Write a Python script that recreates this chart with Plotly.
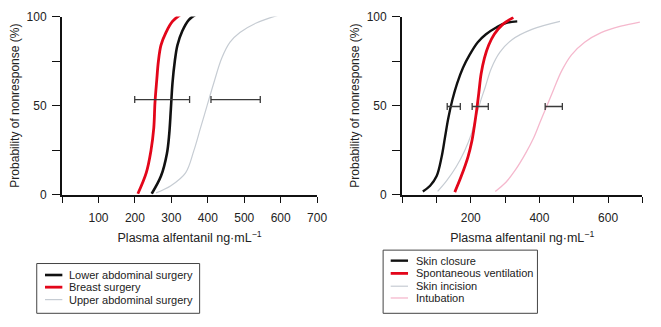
import plotly.graph_objects as go

W, H = 661, 327

# ---------------- data ----------------
left_names = ["Lower abdominal surgery", "Breast surgery", "Upper abdominal surgery"]
lower_x = [246, 271.5, 287.7, 294, 298.6, 303, 309.4, 316.6, 330, 348, 372.7]
lower_y = [0.5, 10.4, 23, 33.7, 48, 62.4, 74.9, 83.9, 91.9, 98.2, 101.8]
breast_x = [208, 231, 244, 251.7, 255, 259.8, 264.4, 271.5, 285, 303, 330]
breast_y = [0.5, 12.2, 24.7, 37.3, 51.6, 64.1, 74.9, 83.9, 91, 97.3, 101.8]
upper_x = [258, 298.6, 339, 361.7, 379.8, 397.8, 416, 438.4, 461, 488, 533, 596]
upper_y = [1, 5, 12.2, 24.7, 37.3, 49.8, 62.4, 76.7, 85.6, 91, 96.4, 100.9]
left_err_lo = [199.4, 408.7]
left_err_hi = [350, 544]
left_err_y = [53.4, 53.4]

right_names = ["Skin closure", "Spontaneous ventilation", "Skin incision", "Intubation"]
closure_x = [60.3, 81.6, 100.6, 115, 124.7, 134.2, 146.6, 160, 177.3, 196.5, 220.4, 244.3, 273, 301.7, 335.3]
closure_y = [1.8, 5, 10.4, 21.1, 31.9, 42.6, 53.4, 62.4, 71.3, 78.5, 85.6, 90.1, 93.7, 96.4, 97.3]
spont_x = [153.4, 172.4, 191.7, 203.2, 210.9, 217.5, 223.3, 230, 239.7, 252, 268.4, 292.2, 323.9]
spont_y = [1.4, 10.4, 21.1, 30.1, 39.1, 48, 57, 67.7, 76.7, 83.9, 90.1, 95.5, 99.5]
incision_x = [103.4, 129.3, 158, 182.2, 201, 213.8, 227, 242.5, 260, 285, 320, 378, 459.8]
incision_y = [1.8, 7.7, 15.8, 24.7, 33.7, 42.6, 51.6, 60.6, 71, 80, 87, 92.8, 97.3]
intub_x = [271.3, 301.7, 330.5, 359.2, 383.3, 402.3, 421.6, 440.8, 464.7, 493.4, 531.6, 579.6, 637, 692.5]
intub_y = [1.8, 6.8, 14, 23, 31.9, 40.9, 49.8, 58.8, 69.5, 78.5, 85.6, 91, 94.6, 96.9]
right_err_lo = [131.3, 204, 416.7]
right_err_hi = [169.5, 251, 466.7]
right_err_y = [49.5, 49.5, 49.5]

left_ticks = [100, 200, 300, 400, 500, 600, 700]
left_minor = [0]
right_ticks = [200, 400, 600]
right_minor = [0, 100, 300, 500, 700]
y_ticks = [0, 50, 100]
y_minor = [25, 75]

# ---------------- styles ----------------
BLACK = "#111111"
RED = "#e3061a"
GRAY = "#c6ccd3"
PINK = "#f5b8cd"
TXT = "#222222"
FONT = "Liberation Sans, Arial, sans-serif"

left_styles = [(BLACK, 2.6), (RED, 2.8), (GRAY, 1.2)]
right_styles = [(BLACK, 2.4), (RED, 2.8), (GRAY, 1.2), (PINK, 1.3)]

fig = go.Figure()

left_series = [(lower_x, lower_y), (breast_x, breast_y), (upper_x, upper_y)]
right_series = [(closure_x, closure_y), (spont_x, spont_y), (incision_x, incision_y), (intub_x, intub_y)]

# draw thin curves first, thick on top
for order in [2, 0, 1]:
    xs, ys = left_series[order]
    c, w = left_styles[order]
    fig.add_trace(go.Scatter(x=xs, y=ys, mode="lines", name=left_names[order],
                             line=dict(color=c, width=w, shape="spline", smoothing=1.0),
                             xaxis="x", yaxis="y", showlegend=False))
for order in [3, 2, 0, 1]:
    xs, ys = right_series[order]
    c, w = right_styles[order]
    fig.add_trace(go.Scatter(x=xs, y=ys, mode="lines", name=right_names[order],
                             line=dict(color=c, width=w, shape="spline", smoothing=1.0),
                             xaxis="x2", yaxis="y2", showlegend=False))


def err_trace(lo, hi, ys, xa, ya):
    mid = [(a + b) / 2 for a, b in zip(lo, hi)]
    return go.Scatter(x=mid, y=ys, mode="markers", marker=dict(size=1, opacity=0),
                      error_x=dict(type="data", symmetric=False,
                                   array=[b - m for b, m in zip(hi, mid)],
                                   arrayminus=[m - a for a, m in zip(lo, mid)],
                                   color="#3a3a3a", thickness=1.3, width=3.5),
                      xaxis=xa, yaxis=ya, showlegend=False, hoverinfo="skip")


fig.add_trace(err_trace(left_err_lo, left_err_hi, left_err_y, "x", "y"))
fig.add_trace(err_trace(right_err_lo, right_err_hi, right_err_y, "x2", "y2"))


def px(v):
    return v / W


def py(v):
    return 1 - v / H


xdom1 = [px(63), px(322)]
xdom2 = [px(408.3), px(652.3)]
ydom = [py(196), py(10)]

axis_common = dict(showline=True, linecolor=BLACK, linewidth=2, ticks="outside",
                   tickcolor=BLACK, showgrid=False, zeroline=False,
                   tickfont=dict(family=FONT, size=12, color=TXT))

xtitle = dict(text="Plasma alfentanil ng·mL<sup>−1</sup>",
              font=dict(family=FONT, size=12.5, color=TXT), standoff=9)
ytitle = dict(text="Probability of nonresponse (%)",
              font=dict(family=FONT, size=12, color=TXT), standoff=4)


def xaxis_def(ticks, minor, anchor):
    return dict(range=[0, 700], tickmode="array", tickvals=ticks,
                ticklen=6, tickwidth=1.3, ticklabelstandoff=5, anchor=anchor, title=xtitle,
                minor=dict(tickmode="array", tickvals=minor, ticks="outside", ticklen=6,
                           tickwidth=1.3, tickcolor=BLACK, showgrid=False),
                **axis_common)


def yaxis_def(anchor):
    return dict(domain=ydom, range=[0, 100], tickmode="array", tickvals=y_ticks,
                ticklen=8, tickwidth=1.3, ticklabelstandoff=3, anchor=anchor, title=ytitle,
                minor=dict(tickmode="array", tickvals=y_minor, ticks="outside", ticklen=8,
                           tickwidth=1.3, tickcolor=BLACK, showgrid=False),
                **axis_common)


fig.update_layout(
    width=W, height=H, margin=dict(l=0, r=0, t=0, b=0),
    paper_bgcolor="white", plot_bgcolor="white", showlegend=False,
    xaxis=dict(domain=xdom1, **xaxis_def(left_ticks, left_minor, "y")),
    yaxis=yaxis_def("x"),
    xaxis2=dict(domain=xdom2, **xaxis_def(right_ticks, right_minor, "y2")),
    yaxis2=yaxis_def("x2"),
)

# ---------------- hand-made legends (compact, as in the reference) ----------------
shapes = []
annotations = []


def add_legend(names, styles, box, line_x0, line_x1, text_x, row_y):
    x0, y0, x1, y1 = box
    shapes.append(dict(type="rect", xref="paper", yref="paper",
                       x0=px(x0), x1=px(x1), y0=py(y1), y1=py(y0),
                       line=dict(color="#444444", width=1), fillcolor="white", layer="below"))
    for name, (c, w), ry in zip(names, styles, row_y):
        shapes.append(dict(type="line", xref="paper", yref="paper",
                           x0=px(line_x0), x1=px(line_x1), y0=py(ry), y1=py(ry),
                           line=dict(color=c, width=w)))
        annotations.append(dict(xref="paper", yref="paper", x=px(text_x), y=py(ry),
                                text=name, showarrow=False, xanchor="left", yanchor="middle",
                                font=dict(family=FONT, size=11, color=TXT)))


add_legend(left_names, left_styles, (37.3, 268, 202.7, 320), 45.7, 63.3, 68.5,
           [280, 292.7, 305.7])
add_legend(right_names, right_styles, (389, 254, 545.7, 320), 396.7, 414.3, 420,
           [265, 278.3, 291.7, 304])

fig.update_layout(shapes=shapes, annotations=annotations)

fig.write_html("out.html")
